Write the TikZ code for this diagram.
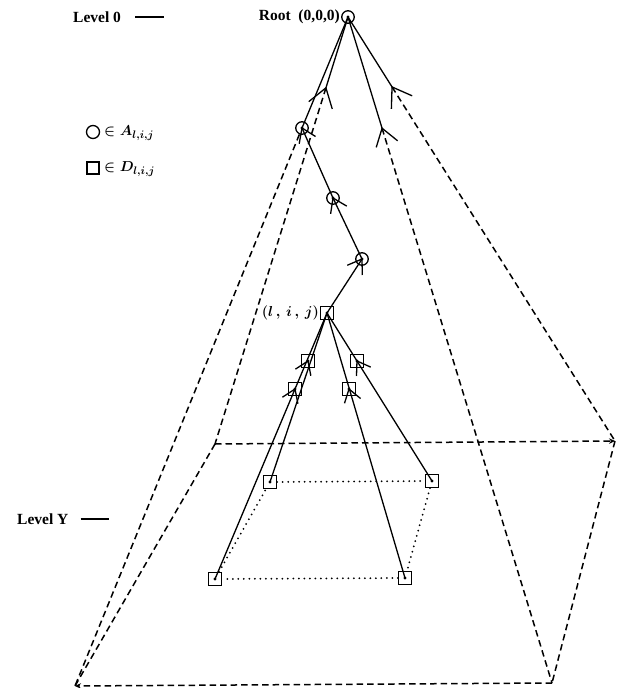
\documentclass[tikz,border=0pt]{standalone}
\usepackage{fontspec}
\setmainfont{Liberation Serif}
\usetikzlibrary{calc,arrows.meta}
\newcommand\chev[3][16]{\draw[solidln] ($(#2)!#1pt!34:(#3)$) -- (#2.center) -- ($(#2)!#1pt!-34:(#3)$);}
\begin{document}
\begin{tikzpicture}[x=1pt,y=-1pt,
  solidln/.style={line width=1.3pt},
  cnode/.style={circle,draw,minimum size=12.5pt,inner sep=0pt,line width=1.3pt},
  snode/.style={rectangle,draw,minimum size=13pt,inner sep=0pt,line width=1.3pt},
  dsh/.style={line width=1.5pt,dash pattern=on 6.5pt off 4pt},
  dtd/.style={line width=2pt,dash pattern=on 0pt off 5.5pt,line cap=round},
  lbl/.style={font=\fontsize{15.5}{18}\selectfont\bfseries,inner sep=0pt},
  mlbl/.style={font=\fontsize{15.5}{18}\selectfont\boldmath,inner sep=0pt},
  tip/.style={-{Stealth[length=6pt,width=5.5pt]}},
]
\useasboundingbox (0,0) rectangle (617,688);

% labels
\node[lbl,anchor=west] (lev0) at (73,17) {Level 0};
\draw[solidln] ($(lev0.east)+(14,0)$) coordinate (l0a) -- ++(29,0) coordinate (l0b);
\node[lbl,anchor=east] (rootlbl) at (340,17) {Root\enspace(0,0,0)};
\node[lbl,anchor=west] (levY) at (17,519) {Level Y};
\draw[solidln] ($(levY.east)+(12,0)$) coordinate (lya) -- ++(28,0) coordinate (lyb);

% legend
\node[cnode,minimum size=13pt] (lc) at (93,132) {};
\node[mlbl,anchor=west] (lct) at (104,133) {$\in A_{l,i,j}$};
\node[snode,minimum size=12pt] (ls) at (93,168) {};
\node[mlbl,anchor=west] (lst) at (104,169) {$\in D_{l,i,j}$};

% tree nodes
\node[cnode] (root) at (348,17) {};
\node[cnode] (c1) at (302,128) {};
\node[cnode] (c2) at (333,198) {};
\node[cnode] (c3) at (362,259) {};
\node[snode] (s0) at (327,313) {};
\node[mlbl,anchor=east] (s0l) at (319,313) {$(l\,,\,i\,,\,j)$};
\node[snode] (sa) at (308,361) {};
\node[snode] (sb) at (357,361) {};
\node[snode] (sc) at (295,389) {};
\node[snode] (sd) at (349,389) {};
\node[snode] (b1) at (270,482) {};
\node[snode] (b2) at (432,481) {};
\node[snode] (b3) at (215,579) {};
\node[snode] (b4) at (405,578) {};
\foreach \n in {root,c1,c2,c3,s0,sa,sb,sc,sd,b1,b2,b3,b4}
  \fill (\n.center) circle (1.6pt);

% pyramid corners
\coordinate (BL) at (215,444);
\coordinate (BR) at (615,441);
\coordinate (FL) at (75,686);
\coordinate (FR) at (552,683);
\coordinate (pB) at ($(root)!0.166!(BL)$);
\coordinate (pC) at ($(root)!0.165!(BR)$);
\coordinate (pD) at ($(root)!0.167!(FR)$);

% lateral edges
\draw[solidln] (root.center) -- (pB);
\draw[dsh] (pB) -- (BL);
\draw[solidln] (root.center) -- (pC);
\draw[dsh] (pC) -- (BR);
\draw[solidln] (root.center) -- (pD);
\draw[dsh] (pD) -- (FR);
\draw[dsh] (c1) -- (FL);
\chev[22]{pB}{BL}
\chev[22]{pC}{BR}
\chev[20]{pD}{FR}

% base
\draw[dsh,tip] (BL) -- (BR);
\draw[dsh,tip] (FR) -- (FL);
\draw[dsh] (BL) -- (FL);
\draw[dsh] (BR) -- (FR);

% tree edges
\draw[solidln] (root.center) -- (c1.center);
\draw[solidln] (c1.center) -- (c2.center);
\draw[solidln] (c2.center) -- (c3.center);
\draw[solidln] (c3.center) -- (s0.center);
\draw[solidln] (s0.center) -- (b3.center);
\draw[solidln] (s0.center) -- (b1.center);
\draw[solidln] (s0.center) -- (b4.center);
\draw[solidln] (s0.center) -- (b2.center);
\chev{c1}{c2}
\chev{c2}{c3}
\chev{c3}{s0}
\chev[15]{sa}{b3}
\chev[15]{sc}{b3}
\chev[15]{sb}{b2}
\chev[15]{sd}{b4}

% level Y plane (dotted)
\draw[dtd] (b1) -- (b2);
\draw[dtd] (b2) -- (b4);
\draw[dtd] (b4) -- (b3);
\draw[dtd] (b3) -- (b1);
\end{tikzpicture}
\end{document}
